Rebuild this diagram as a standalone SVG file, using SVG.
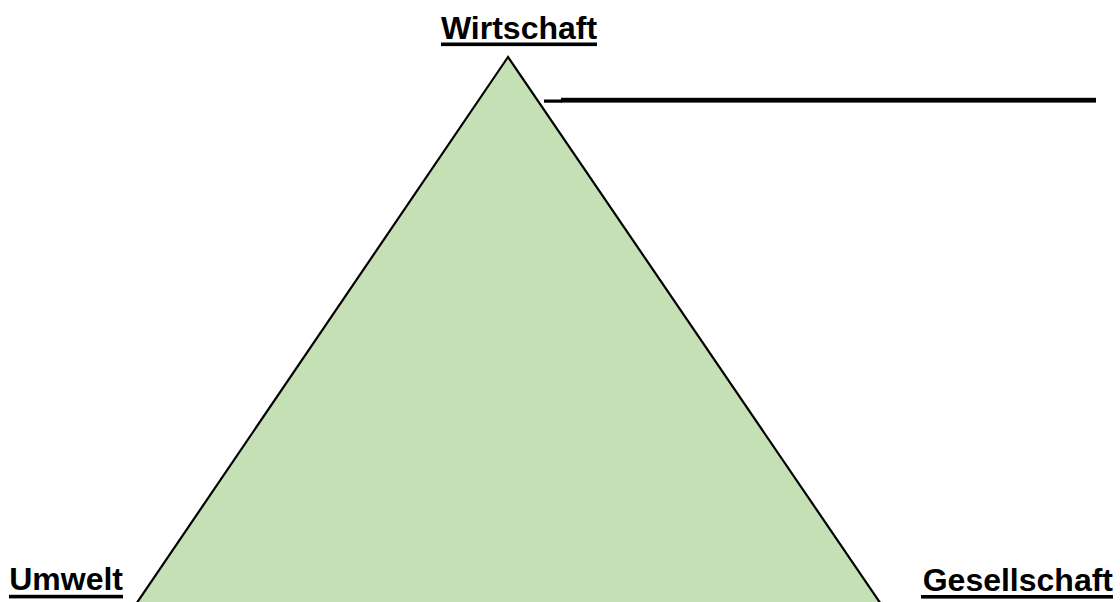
<svg xmlns="http://www.w3.org/2000/svg" width="1120" height="602" viewBox="0 0 1120 602">
  <style>
    .lbl { font-family: "Liberation Sans", Arial, sans-serif; font-size: 32px; font-weight: bold; fill: #000; }
    .ul { fill: #000; }
    .tri { fill: #C5E0B4; stroke: #000; stroke-width: 2.2; stroke-linejoin: miter; }
  </style>
  <rect width="1120" height="602" fill="#fff"/>
  <g id="triangle">
    <polygon class="tri" points="508,57 132,610 885,610"/>
  </g>
  <g id="wirtschaft">
    <text class="lbl" x="519" y="39" text-anchor="middle">Wirtschaft</text>
    <rect class="ul" x="441" y="42.5" width="156" height="3.6"/>
  </g>
  <g id="umwelt">
    <text class="lbl" x="123" y="590" text-anchor="end">Umwelt</text>
    <rect class="ul" x="9" y="594.8" width="114" height="3.6"/>
  </g>
  <g id="gesellschaft">
    <text class="lbl" x="1113" y="590.5" text-anchor="end">Gesellschaft</text>
    <rect class="ul" x="921" y="595" width="192" height="3.6"/>
  </g>
  <g id="connectors">
    <rect x="544" y="99.5" width="18" height="3.2" fill="#000"/>
    <rect x="561" y="97.8" width="535" height="4.8" fill="#000"/>
  </g>
</svg>
